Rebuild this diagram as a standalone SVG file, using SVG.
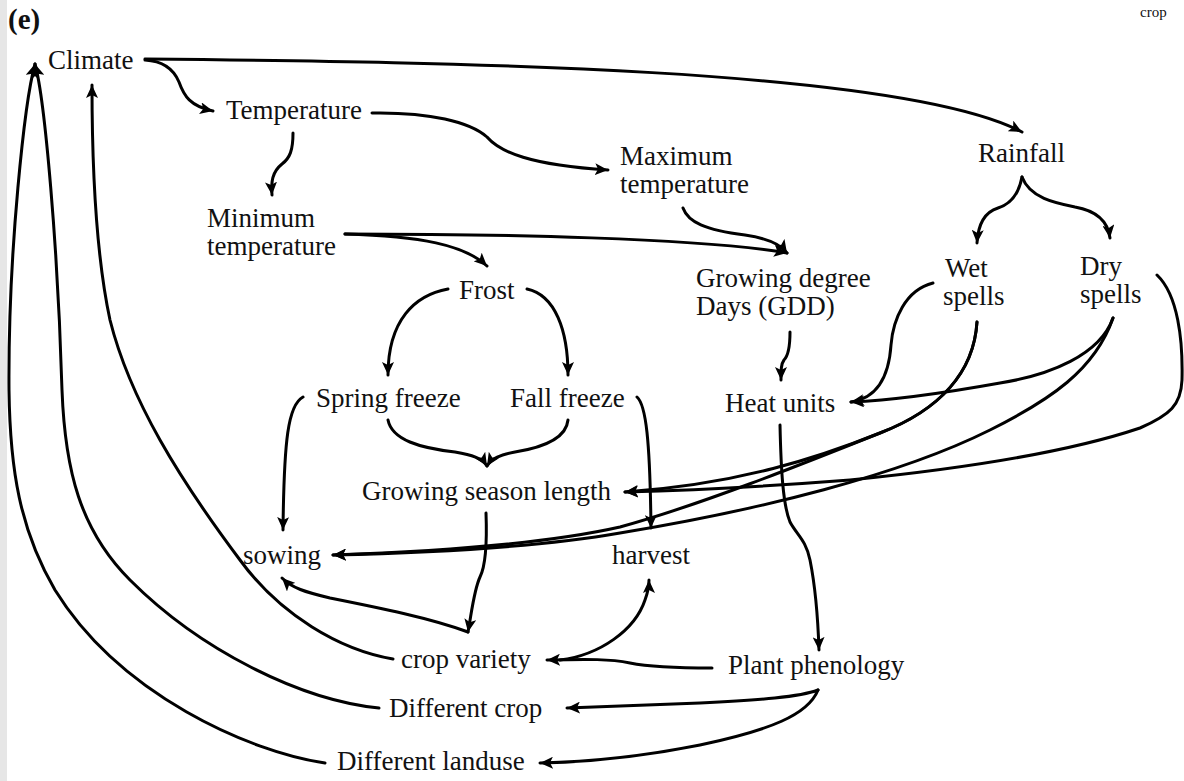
<svg xmlns="http://www.w3.org/2000/svg" width="1184" height="781" viewBox="0 0 1184 781">
  <style>
    .t { font-family: "Liberation Serif", "Times New Roman", serif; font-size: 27px; fill: #111; }
    .c path { fill: none; stroke: #000; stroke-width: 3; stroke-linecap: round; stroke-linejoin: round; }
    .a { marker-end: url(#arrow); }
  </style>
  <defs>
    <marker id="arrow" markerUnits="userSpaceOnUse" markerWidth="14" markerHeight="12" refX="13" refY="6" orient="auto">
      <path d="M0,0 L13,6 L0,12 L3,6 z" fill="#000"/>
    </marker>
  </defs>

  <rect x="0" y="0" width="1184" height="781" fill="#fff"/>
  <rect x="0" y="0" width="7" height="781" fill="#e6e6e6"/>

  <text x="8" y="29" style="font-family:'Liberation Serif',serif;font-size:29px;font-weight:bold;fill:#111">(e)</text>
  <text x="1140" y="17" style="font-family:'Liberation Serif',serif;font-size:15px;fill:#111">crop</text>

  <!-- connectors -->
  <g id="connectors" class="c">
    <!-- climate branch -->
    <path class="a" d="M145,60 C163,61 174,70 179,82 C184,96 190,106 213,111"/>
    <path class="a" d="M145,59 C450,62 900,68 1022,132"/>
    <path class="a" d="M372,113 C430,112 470,122 487,137 C500,152 530,165 608,170"/>
    <path class="a" d="M293,133 C293,150 290,158 282,164 C272,172 271,182 272,195"/>
    <path class="a" d="M345,234 C500,234 700,238 787,253"/>
    <path class="a" d="M345,234 C420,236 465,245 487,266"/>
    <path class="a" d="M683,208 C688,222 705,230 745,235 C765,238 780,243 787,253"/>

    <!-- frost -->
    <path class="a" d="M448,289 C415,295 388,320 388,375"/>
    <path class="a" d="M527,289 C555,295 568,330 568,375"/>
    <path class="a" d="M388,420 C392,440 420,448 455,452 C472,455 482,458 487,466"/>
    <path class="a" d="M568,420 C566,440 540,448 515,452 C500,455 492,458 487,466"/>
    <path class="a" d="M303,397 C288,405 284,440 283,530"/>
    <path class="a" d="M637,397 C646,405 650,440 651,528"/>

    <!-- GDD and rainfall -->
    <path class="a" d="M790,332 C790,348 788,356 784,360 C781,364 781,370 781,380"/>
    <path class="a" d="M1022,177 C1018,198 1008,205 998,208 C985,212 978,225 977,243"/>
    <path class="a" d="M1022,177 C1030,198 1055,203 1075,207 C1098,211 1108,222 1110,238"/>
    <path class="a" d="M933,283 C905,290 893,320 891,345 C889,375 878,398 851,402"/>
    <path class="a" d="M1113,318 C1100,355 1050,375 1000,383 C950,392 900,400 851,402"/>
    <path class="a" d="M977,322 C974,372 940,410 880,433 C820,457 740,484 625,492"/>
    <path class="a" d="M977,322 C974,372 940,410 880,433 C800,465 700,505 620,527 C540,545 420,552 333,555"/>
    <path class="a" d="M1113,318 C1095,370 1050,400 990,430 C900,475 760,510 620,533 C540,547 420,553 333,555"/>
    <path class="a" d="M1157,275 C1178,295 1183,340 1182,380 C1181,405 1170,415 1140,428 C1060,455 950,470 850,480 C760,487 700,490 625,492"/>

    <!-- phenology -->
    <path class="a" d="M780,425 C781,470 783,505 790,522 C797,535 806,540 810,560 C816,590 818,620 819,650"/>
    <path class="a" d="M712,668 C680,668 650,667 630,663 C610,659 590,659 547,660"/>
    <path class="a" d="M560,660 C600,655 635,630 645,600 C648,592 649,588 649,580"/>
    <path class="a" d="M818,690 C800,697 760,700 700,703 C650,705 600,707 567,708"/>
    <path class="a" d="M818,690 C808,715 770,730 700,745 C640,757 590,762 540,763"/>

    <!-- crop variety, sowing -->
    <path class="a" d="M486,513 C487,540 486,565 480,577 C474,590 472,610 468,632"/>
    <path class="a" d="M468,632 C430,618 380,608 330,598 C305,592 292,588 282,578"/>

    <!-- feedback to climate -->
    <path class="a" d="M393,659 C340,650 280,615 240,560 C180,480 130,400 110,320 C95,250 92,150 92,85"/>
    <path class="a" d="M379,708 C300,700 200,650 130,580 C80,530 65,470 62,390 C58,250 45,100 35,64"/>
    <path class="a" d="M325,763 C250,752 120,695 55,590 C20,530 10,470 9,390 C8,250 25,100 35,64"/>
  </g>

  <!-- nodes -->
  <g id="climate"><text class="t" x="48" y="69">Climate</text></g>
  <g id="temperature"><text class="t" x="226" y="119">Temperature</text></g>
  <g id="max-temp"><text class="t" x="620" y="165">Maximum</text><text class="t" x="620" y="193">temperature</text></g>
  <g id="rainfall"><text class="t" x="978" y="162">Rainfall</text></g>
  <g id="min-temp"><text class="t" x="207" y="227">Minimum</text><text class="t" x="207" y="255">temperature</text></g>
  <g id="frost"><text class="t" x="459" y="299">Frost</text></g>
  <g id="gdd"><text class="t" x="696" y="287">Growing degree</text><text class="t" x="696" y="315">Days (GDD)</text></g>
  <g id="wet-spells"><text class="t" x="945" y="277">Wet</text><text class="t" x="943" y="305">spells</text></g>
  <g id="dry-spells"><text class="t" x="1080" y="275">Dry</text><text class="t" x="1080" y="303">spells</text></g>
  <g id="spring-freeze"><text class="t" x="316" y="407">Spring freeze</text></g>
  <g id="fall-freeze"><text class="t" x="510" y="407">Fall freeze</text></g>
  <g id="heat-units"><text class="t" x="725" y="412">Heat units</text></g>
  <g id="season-length"><text class="t" x="362" y="500">Growing season length</text></g>
  <g id="sowing"><text class="t" x="243" y="564">sowing</text></g>
  <g id="harvest"><text class="t" x="612" y="564">harvest</text></g>
  <g id="crop-variety"><text class="t" x="401" y="668">crop variety</text></g>
  <g id="phenology"><text class="t" x="728" y="674">Plant phenology</text></g>
  <g id="different-crop"><text class="t" x="389" y="717">Different crop</text></g>
  <g id="different-landuse"><text class="t" x="337" y="770">Different landuse</text></g>
</svg>
